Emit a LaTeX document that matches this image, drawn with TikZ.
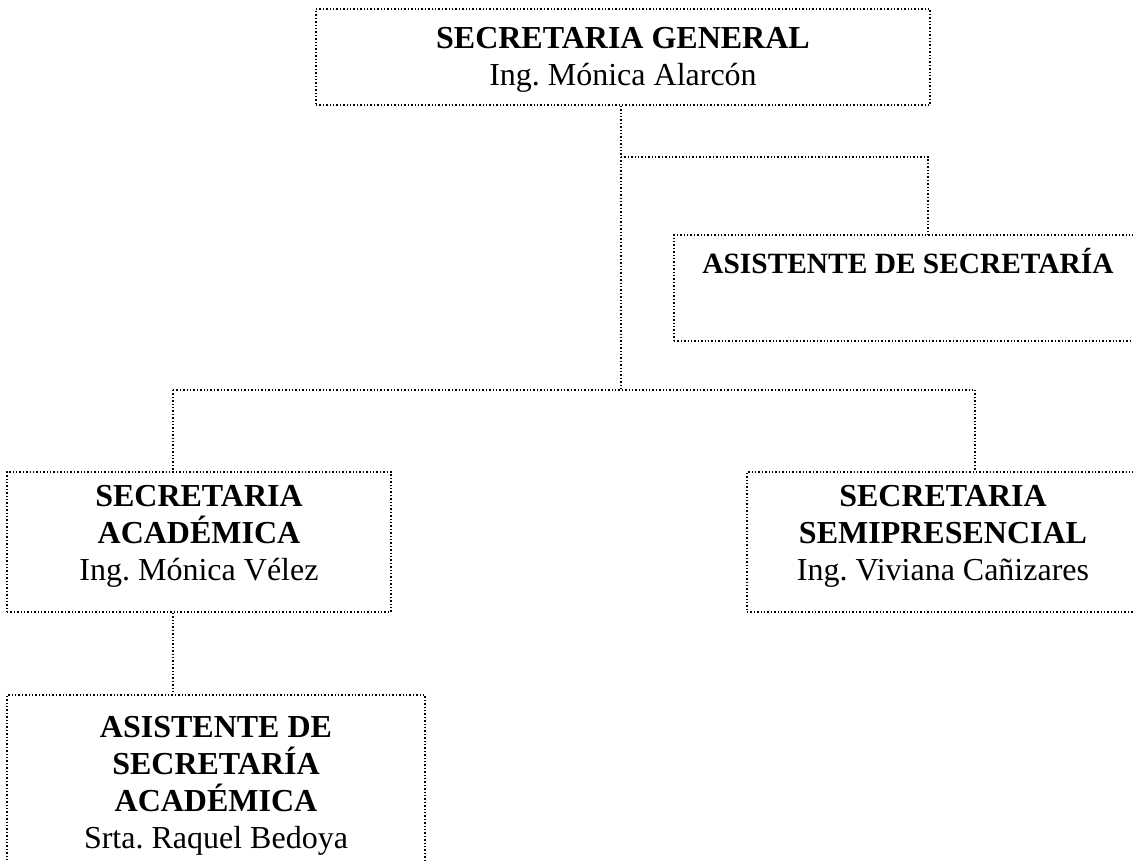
\documentclass[tikz,border=0pt]{standalone}
\usepackage{fontspec}
\setmainfont{Liberation Serif}
\frenchspacing
\begin{document}
\begin{tikzpicture}[x=1pt,y=-1pt,
  dotline/.style={line width=1.4pt, dash pattern=on 1.4pt off 2pt, black},
  orgbox/.style={draw, dotline, rectangle, inner sep=0pt},
  orgtxt/.style={align=center, inner sep=0pt, font=\fontsize{32}{37}\selectfont}]
\useasboundingbox (0,0) rectangle (1133,862);
\clip (0,0) rectangle (1133,862);
% boxes
\node[orgbox, minimum width=614pt, minimum height=96pt] (gen) at (623,57) {};
\node[orgbox, minimum width=471pt, minimum height=106pt] (asis) at (909.5,288) {};
\node[orgbox, minimum width=384pt, minimum height=140pt] (acad) at (199,542) {};
\node[orgbox, minimum width=392pt, minimum height=140pt] (semi) at (943,542) {};
\node[orgbox, minimum width=418pt, minimum height=190pt] (asac) at (216,790) {};
% texts
\node[orgtxt] (genT) at (623,59.9) {\textbf{SECRETARIA GENERAL}\\Ing. Mónica Alarcón};
\node[orgtxt, anchor=base, font=\fontsize{29.4}{34}\selectfont] (asisT) at (908,273.5) {\textbf{ASISTENTE DE SECRETARÍA}};
\node[orgtxt] (acadT) at (199,536) {\textbf{SECRETARIA}\\\textbf{ACADÉMICA}\\Ing. Mónica Vélez};
\node[orgtxt] (semiT) at (943,536) {\textbf{SECRETARIA}\\\textbf{SEMIPRESENCIAL}\\Ing. Viviana Cañizares};
\node[orgtxt] (asacT) at (216,786) {\textbf{ASISTENTE DE}\\\textbf{SECRETARÍA}\\\textbf{ACADÉMICA}\\Srta. Raquel Bedoya};
% junctions
\coordinate (j1) at (621,157);
\coordinate (j2) at (621,390);
\coordinate (b1) at (928,157);
\coordinate (bl) at (173,390);
\coordinate (br) at (975,390);
% connectors
\draw[dotline] (gen.south -| j1) -- (j2);
\draw[dotline] (j1) -- (b1) -- (b1 |- asis.north);
\draw[dotline] (bl) -- (br);
\draw[dotline] (bl) -- (bl |- acad.north);
\draw[dotline] (br) -- (br |- semi.north);
\draw[dotline] (bl |- acad.south) -- (bl |- asac.north);
\end{tikzpicture}
\end{document}
